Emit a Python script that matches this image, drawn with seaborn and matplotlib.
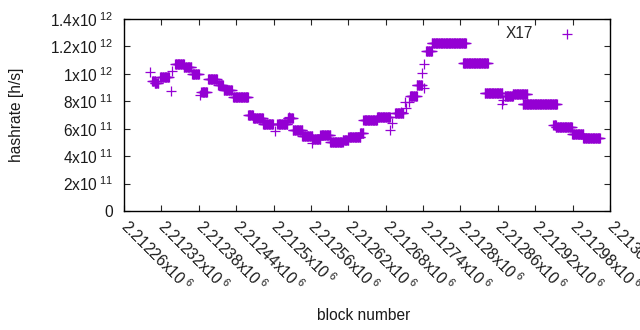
import numpy as np
import pandas as pd
import matplotlib
matplotlib.use("Agg")
import matplotlib.pyplot as plt
import seaborn as sns

# runs of blocks with a constant hashrate estimate (h/s)
seg_first = [2212305, 2212309, 2212318, 2212342, 2212356, 2212369, 2212384, 2212395,
             2212411, 2212420, 2212435, 2212459, 2212467, 2212483, 2212506, 2212523,
             2212531, 2212546, 2212562, 2212575, 2212591, 2212611, 2212620, 2212639,
             2212644, 2212666, 2212695, 2212719, 2212730, 2212745, 2212754, 2212804,
             2212839, 2212871, 2212884, 2212900, 2212949, 2212953, 2212979, 2212997]
seg_last = [2212310, 2212315, 2212332, 2212356, 2212368, 2212380, 2212393, 2212409,
            2212419, 2212433, 2212459, 2212467, 2212483, 2212499, 2212522, 2212531,
            2212546, 2212562, 2212575, 2212591, 2212611, 2212620, 2212639, 2212644,
            2212666, 2212687, 2212708, 2212730, 2212738, 2212754, 2212809, 2212844,
            2212867, 2212884, 2212907, 2212955, 2212953, 2212979, 2212997, 2213024]
seg_rate = [0.950e12, 0.930e12, 0.979e12, 1.070e12, 1.048e12, 0.999e12, 0.870e12, 0.965e12,
            0.919e12, 0.882e12, 0.829e12, 0.700e12, 0.678e12, 0.634e12, 0.634e12, 0.678e12,
            0.591e12, 0.547e12, 0.523e12, 0.554e12, 0.503e12, 0.521e12, 0.537e12, 0.567e12,
            0.664e12, 0.683e12, 0.712e12, 0.841e12, 0.919e12, 1.169e12, 1.223e12, 1.077e12,
            0.858e12, 0.841e12, 0.851e12, 0.778e12, 0.627e12, 0.615e12, 0.561e12, 0.534e12]

# single blocks off the runs
out_block = [2212302, 2212335, 2212337, 2212382, 2212502, 2212525, 2212562, 2212687,
             2212690, 2212705, 2212711, 2212713, 2212717, 2212739, 2212741, 2212742,
             2212867, 2212868]
out_rate = [1.016e12, 0.877e12, 1.023e12, 0.846e12, 0.583e12, 0.688e12, 0.496e12, 0.591e12,
            0.642e12, 0.724e12, 0.797e12, 0.753e12, 0.797e12, 1.004e12, 0.897e12, 1.072e12,
            0.780e12, 0.809e12]

xticks = list(range(2212260, 2213041, 60))
yticks = [0, 2e11, 4e11, 6e11, 8e11, 1e12, 1.2e12, 1.4e12]

blocks, rates = [], []
for a, b, r in zip(seg_first, seg_last, seg_rate):
    for blk in range(a, b + 1):
        blocks.append(blk)
        rates.append(r)
blocks += out_block
rates += out_rate
df = pd.DataFrame({"block": blocks, "rate": rates})


def sci(v):
    if v == 0:
        return "0"
    e = int(np.floor(np.log10(v)))
    m = v / 10 ** e
    return "%gx10$\\mathregular{^{\\;%d}}$" % (round(m, 6), e)


sns.set_style("ticks")
plt.rcParams["font.family"] = ["Liberation Sans", "DejaVu Sans"]
plt.rcParams["mathtext.fontset"] = "custom"
plt.rcParams["mathtext.rm"] = "Liberation Sans"
fs = 11.2

fig = plt.figure(figsize=(6.4, 3.3), dpi=100)
ax = fig.add_axes([124 / 640, 1 - 211 / 330, 486 / 640, 192 / 330])
sns.scatterplot(data=df, x="block", y="rate", marker="+", s=42, linewidth=0.9,
                color="#9400d3", label="X17", ax=ax)

ax.set_xlim(2212260, 2213040)
ax.set_ylim(0, 1.4e12)
ax.set_xticks(xticks)
ax.set_xticklabels([sci(t) for t in xticks], rotation=-45, ha="left", va="center",
                   rotation_mode="anchor", fontsize=fs, color="#1a1a1a")
ax.set_yticks(yticks)
ax.set_yticklabels([sci(t) for t in yticks], fontsize=fs, color="#1a1a1a")
ax.tick_params(direction="in", length=4.5, width=0.8, top=True, right=True)
ax.tick_params(axis="y", pad=8)
ax.tick_params(axis="x", pad=9)
for sp in ax.spines.values():
    sp.set_linewidth(1.0)
    sp.set_color("black")

ax.set_xlabel("block number", fontsize=fs, color="#1a1a1a")
ax.xaxis.set_label_coords((364 - 124) / 486, (211 - 315) / 192)
ax.xaxis.label.set_va("center")
ax.set_ylabel("hashrate [h/s]", fontsize=fs, color="#1a1a1a")
ax.yaxis.set_label_coords((17 - 124) / 486, 0.5)
ax.yaxis.label.set_va("center")

leg = ax.legend(loc="upper right", bbox_to_anchor=(0.971, 1.0), markerfirst=False,
                frameon=False, fontsize=fs, handlelength=2.8, handletextpad=0.8,
                borderaxespad=0.1, borderpad=0.35)
for h in leg.legend_handles:
    h.set_sizes([42])

fig.savefig("out.png", dpi=100)
